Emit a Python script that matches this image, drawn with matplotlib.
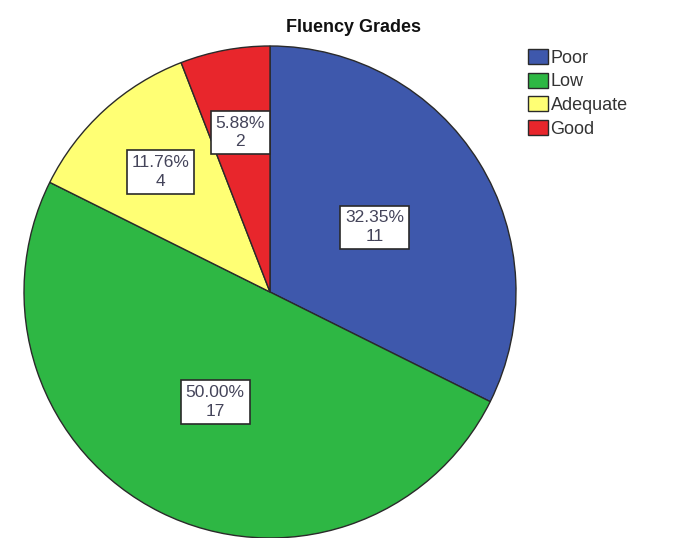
import matplotlib
matplotlib.use('Agg')
import matplotlib.pyplot as plt
import numpy as np

# data
categories = ['Poor', 'Low', 'Adequate', 'Good']
counts = [11, 17, 4, 2]
colors = ['#3E58AC', '#2EB744', '#FFFF74', '#E8262C']

# label distance from centre (fraction of radius), per wedge
label_dist = [0.50, 0.50, 0.66, 0.66]

W, H = 689, 538
fig = plt.figure(figsize=(W / 100, H / 100), dpi=100)
ax = fig.add_axes([0, 0, 1, 1])

cx, cy, r = 270, H - 292, 246
total = sum(counts)

wedges, _ = ax.pie(counts, colors=colors, startangle=90, counterclock=False,
                   center=(cx, cy), radius=r,
                   wedgeprops=dict(edgecolor='#2a2a2a', linewidth=1.0))

for w, c, d in zip(wedges, counts, label_dist):
    mid = np.deg2rad((w.theta1 + w.theta2) / 2)
    x = cx + d * r * np.cos(mid)
    y = cy + d * r * np.sin(mid)
    ax.text(x, y, f"{100 * c / total:.2f}%\n{c}", ha='center', va='center',
            fontsize=12.5, family='Liberation Sans', color='#44445a',
            linespacing=1.3,
            bbox=dict(boxstyle='square,pad=0.28', facecolor='white',
                      edgecolor='#2a2a2a', linewidth=1.2))

ax.set_xlim(0, W)
ax.set_ylim(0, H)
ax.set_aspect('equal')
ax.axis('off')

fig.text(353 / W, 1 - 28 / H, 'Fluency Grades', ha='center', va='center',
         fontsize=13, fontweight='bold', family='Liberation Sans', color='#111111')

leg = ax.legend(wedges, categories, loc='upper left',
                bbox_to_anchor=(528 / W, 1 - 49 / H), frameon=False,
                prop=dict(family='Liberation Sans', size=13),
                handlelength=1.1, handleheight=0.9, handletextpad=0.15,
                labelspacing=0.33, borderpad=0, borderaxespad=0)
for t in leg.get_texts():
    t.set_color('#333333')

fig.savefig('out.png', dpi=100)
